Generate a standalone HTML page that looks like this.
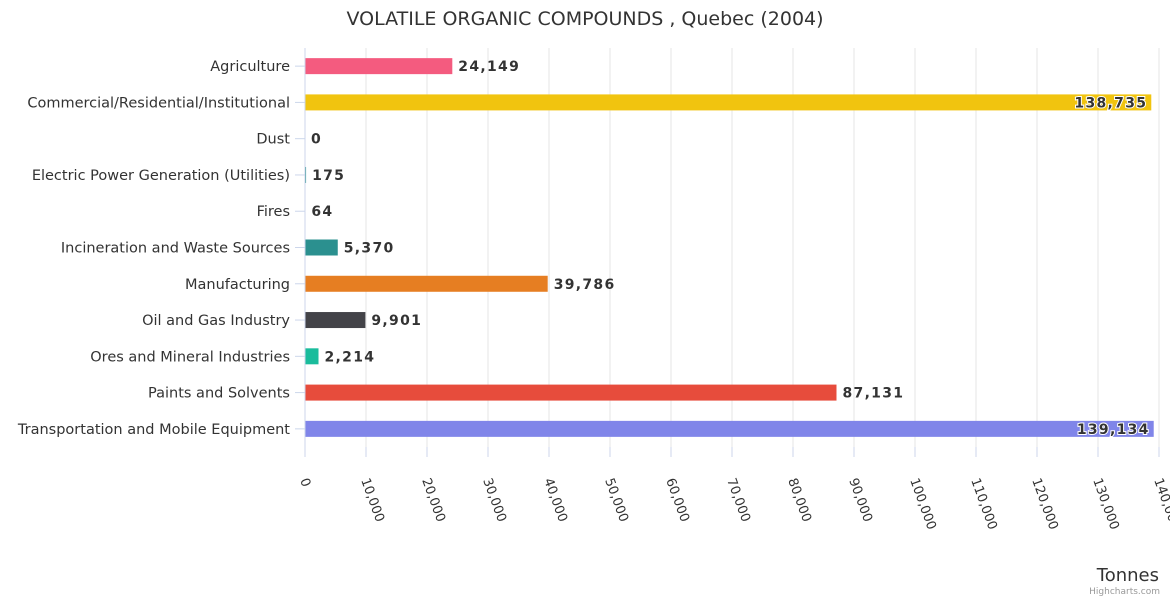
<!DOCTYPE html>
<html><head><meta charset="utf-8"><style>
body{margin:0;background:#fff;}
text{font-family:"DejaVu Sans","Liberation Sans",sans-serif;}
</style></head><body>
<svg id="chart" width="1170" height="600" xmlns="http://www.w3.org/2000/svg">
<text x="585" y="25" text-anchor="middle" font-size="19" fill="#333">VOLATILE ORGANIC COMPOUNDS , Quebec (2004)</text>
<g id="grid"></g><g id="bars"></g><g id="axes"></g>
<text x="1159" y="581" text-anchor="end" font-size="18" fill="#333">Tonnes</text>
<text x="1160" y="594" text-anchor="end" font-size="9" fill="#999">Highcharts.com</text>
</svg>
<script>
const categories=["Agriculture","Commercial/Residential/Institutional","Dust","Electric Power Generation (Utilities)","Fires","Incineration and Waste Sources","Manufacturing","Oil and Gas Industry","Ores and Mineral Industries","Paints and Solvents","Transportation and Mobile Equipment"];
const values=[24149,138735,0,175,64,5370,39786,9901,2214,87131,139134];
const colors=["#f45b7f","#f1c40f","#2b908f","#2b908f","#2b908f","#2b908f","#e67e22","#434348","#1abc9c","#e74c3c","#8085e9"];
const ticks=[0,10000,20000,30000,40000,50000,60000,70000,80000,90000,100000,110000,120000,130000,140000];
const NS="http://www.w3.org/2000/svg";
const x0=305,x1=1159,xmax=140000,yTop=48,yBot=447;
const xs=v=>x0+(v/xmax)*(x1-x0);
const rowH=(yBot-yTop)/categories.length;
const yc=i=>yTop+rowH*(i+0.5);
function mk(tag,attrs,parent){const e=document.createElementNS(NS,tag);for(const k in attrs)e.setAttribute(k,attrs[k]);document.getElementById(parent).appendChild(e);return e;}
const fmt=v=>v.toLocaleString('en-US');
ticks.forEach(t=>{
 const x=xs(t);
 if(t>0){const g=mk('line',{x1:x,x2:x,y1:yTop,y2:yBot,stroke:'#e6e6e6'},'grid');
 
 }
 const tk=mk('line',{x1:x,x2:x,y1:yBot,y2:yBot+10,stroke:'#ccd6eb'},'axes');
 
 
 const lb=mk('text',{x:x-5,y:yBot+33,'font-size':13,fill:'#333',transform:`rotate(70 ${x-5} ${yBot+33})`},'axes');
 lb.textContent=fmt(t);
 
 
});
const ax=mk('line',{x1:x0,x2:x0,y1:yTop,y2:yBot,stroke:'#ccd6eb'},'axes');


categories.forEach((c,i)=>{
 const y=yc(i);
 const t=mk('line',{x1:x0-10,x2:x0,y1:y,y2:y,stroke:'#ccd6eb'},'axes');
 
 
 const lb=mk('text',{x:290,y:y+5,'text-anchor':'end','font-size':14.5,fill:'#333'},'axes');
 lb.textContent=c;
 
 
 const w=xs(values[i])-x0;
 const b=mk('rect',{x:x0,y:y-8,width:Math.max(w,0),height:16,fill:colors[i]},'bars');
 
 
 const inside=w>800;
 const vl=mk('text',{x:inside?x0+w-4:x0+w+6,y:y+5,'text-anchor':inside?'end':'start','font-size':14,'letter-spacing':1.3,'font-weight':'bold',fill:'#333',stroke:inside?'#fff':'none','stroke-width':inside?2:0,'paint-order':'stroke'},'bars');
 vl.textContent=fmt(values[i]);
 
 
});
</script>
</body></html>
